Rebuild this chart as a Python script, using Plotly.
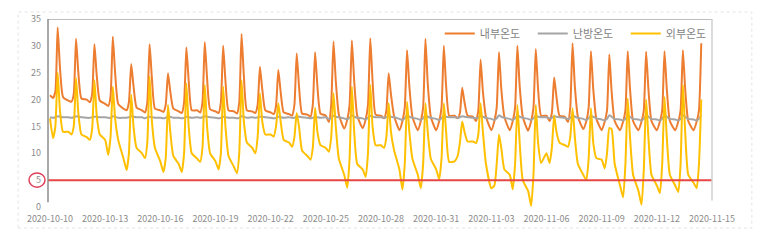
import pandas as pd
import plotly.graph_objects as go

# sample hours within each day
hours = [0, 4, 7, 10, 13, 17]
start_date = "2020-10-10"

# 내부온도 (inside) per day, values at the sample hours
inside = [
    [20.8, 20.3, 21.5, 33.4, 26.0, 20.5],
    [19.8, 19.6, 21.0, 31.3, 25.0, 20.2],
    [20.0, 19.5, 21.0, 30.3, 24.5, 19.8],
    [19.2, 18.8, 20.5, 31.7, 25.0, 19.2],
    [18.3, 18.0, 19.5, 26.6, 22.5, 18.5],
    [18.0, 17.6, 19.5, 30.3, 24.0, 18.3],
    [18.0, 17.7, 19.0, 24.9, 21.5, 18.3],
    [17.8, 17.5, 19.5, 29.7, 23.5, 18.0],
    [18.0, 17.6, 19.5, 30.7, 24.0, 18.2],
    [17.8, 17.5, 19.5, 30.0, 23.5, 18.0],
    [17.8, 17.4, 19.5, 32.2, 24.5, 18.0],
    [17.8, 17.5, 19.0, 26.1, 22.0, 18.0],
    [17.6, 17.3, 18.8, 25.5, 21.5, 17.6],
    [17.3, 17.0, 19.0, 28.6, 22.5, 17.4],
    [17.2, 16.8, 19.0, 28.8, 22.5, 17.4],
    [17.0, 15.8, 19.0, 30.8, 23.5, 17.2],
    [14.6, 16.3, 19.0, 31.0, 23.5, 17.0],
    [14.7, 16.3, 19.0, 31.4, 23.5, 17.2],
    [17.0, 16.5, 18.0, 24.9, 21.0, 17.0],
    [14.3, 16.0, 18.5, 29.2, 22.5, 16.8],
    [14.3, 16.0, 18.5, 31.3, 23.0, 16.8],
    [14.3, 16.0, 18.5, 30.0, 22.5, 17.0],
    [17.0, 16.5, 17.5, 22.2, 19.5, 17.0],
    [16.8, 16.0, 18.0, 27.4, 21.5, 16.8],
    [14.3, 16.0, 18.5, 28.8, 22.0, 16.8],
    [14.3, 16.0, 18.5, 30.0, 22.5, 16.8],
    [14.2, 16.0, 18.5, 29.4, 22.0, 17.0],
    [17.0, 16.0, 17.5, 24.1, 20.5, 17.0],
    [16.8, 15.8, 18.5, 30.5, 22.5, 16.8],
    [14.5, 16.0, 18.5, 29.0, 22.0, 16.5],
    [14.3, 15.9, 18.0, 28.4, 21.5, 16.0],
    [14.3, 15.9, 18.0, 29.0, 22.0, 16.0],
    [14.3, 15.9, 18.0, 28.9, 22.0, 16.0],
    [14.3, 15.9, 18.0, 29.0, 22.0, 16.0],
    [14.3, 15.9, 18.0, 29.2, 22.0, 16.0],
    [14.3, 15.9, 18.0, 30.5],
]

# 난방온도 (heating setpoint)
heating = [
    [16.7, 16.6, 16.7, 16.9, 16.8, 16.7],
    [16.7, 16.6, 16.7, 16.9, 16.8, 16.7],
    [16.6, 16.6, 16.7, 16.8, 16.8, 16.7],
    [16.7, 16.6, 16.6, 16.9, 16.8, 16.6],
    [16.6, 16.6, 16.7, 16.9, 16.8, 16.7],
    [16.7, 16.5, 16.7, 16.8, 16.7, 16.6],
    [16.6, 16.5, 16.6, 16.9, 16.8, 16.6],
    [16.6, 16.5, 16.6, 16.8, 16.7, 16.6],
    [16.7, 16.6, 16.7, 16.9, 16.8, 16.7],
    [16.6, 16.5, 16.6, 16.8, 16.7, 16.6],
    [16.6, 16.5, 16.6, 16.9, 16.8, 16.6],
    [16.7, 16.6, 16.7, 16.8, 16.8, 16.7],
    [16.6, 16.5, 16.6, 16.8, 16.7, 16.6],
    [16.7, 16.6, 16.6, 16.9, 16.8, 16.7],
    [16.6, 16.5, 16.6, 16.8, 16.7, 16.6],
    [16.7, 16.4, 16.6, 17.0, 16.8, 16.7],
    [16.5, 16.3, 16.6, 17.1, 16.8, 16.6],
    [16.5, 16.3, 16.6, 17.0, 16.8, 16.7],
    [16.7, 16.6, 16.7, 16.9, 16.8, 16.7],
    [16.4, 16.2, 16.5, 17.1, 16.8, 16.6],
    [16.4, 16.2, 16.5, 17.1, 16.8, 16.6],
    [16.4, 16.2, 16.5, 17.0, 16.8, 16.7],
    [16.7, 16.6, 16.7, 16.9, 16.8, 16.7],
    [16.6, 16.5, 16.6, 17.0, 16.8, 16.6],
    [16.4, 16.2, 16.5, 17.1, 16.8, 16.6],
    [16.4, 16.2, 16.5, 17.1, 16.8, 16.6],
    [16.4, 16.2, 16.5, 17.0, 16.8, 16.7],
    [16.7, 16.5, 16.6, 16.9, 16.8, 16.7],
    [16.6, 16.4, 16.6, 17.1, 16.8, 16.6],
    [16.4, 16.2, 16.5, 17.0, 16.8, 16.5],
    [16.3, 16.1, 16.4, 17.1, 16.8, 16.4],
    [16.3, 16.1, 16.4, 17.1, 16.8, 16.4],
    [16.3, 16.1, 16.4, 17.1, 16.8, 16.4],
    [16.3, 16.1, 16.4, 17.1, 16.8, 16.4],
    [16.3, 16.1, 16.4, 17.1, 16.8, 16.4],
    [16.3, 16.1, 16.4, 17.1],
]

# 외부온도 (outside)
outside = [
    [16.5, 12.8, 15.0, 25.0, 18.0, 14.0],
    [14.0, 13.5, 15.0, 24.0, 17.5, 13.5],
    [13.0, 12.5, 14.5, 23.6, 17.0, 13.5],
    [12.5, 9.7, 13.0, 22.4, 16.5, 12.5],
    [9.0, 6.9, 10.0, 20.9, 15.0, 11.0],
    [10.0, 9.1, 12.0, 24.3, 16.0, 11.0],
    [8.5, 6.5, 9.0, 19.0, 14.0, 9.5],
    [8.0, 6.5, 10.0, 23.0, 15.0, 10.0],
    [9.0, 8.4, 11.0, 22.7, 15.0, 10.0],
    [8.5, 7.0, 10.0, 22.4, 15.0, 9.5],
    [7.5, 6.3, 10.0, 23.6, 16.0, 12.0],
    [11.0, 10.0, 13.0, 21.2, 16.0, 13.5],
    [13.5, 13.1, 15.0, 19.3, 16.0, 12.5],
    [12.0, 11.2, 13.0, 17.5, 15.0, 10.5],
    [9.5, 8.8, 11.0, 18.5, 14.0, 11.5],
    [11.0, 10.3, 13.0, 21.2, 15.0, 9.0],
    [6.0, 3.6, 9.0, 22.4, 14.0, 8.0],
    [7.0, 5.6, 10.0, 22.7, 15.0, 11.5],
    [11.5, 11.0, 13.0, 19.3, 14.0, 10.6],
    [7.0, 3.2, 8.0, 19.6, 14.0, 9.0],
    [6.0, 3.5, 8.0, 19.3, 14.0, 9.0],
    [7.0, 5.2, 9.0, 19.3, 14.0, 8.4],
    [8.5, 9.5, 12.0, 15.9, 14.0, 12.2],
    [12.2, 11.9, 13.5, 19.3, 14.0, 8.0],
    [3.5, 4.0, 8.0, 13.5, 11.0, 7.0],
    [6.0, 3.3, 8.0, 19.0, 12.0, 5.0],
    [3.0, 0.2, 6.0, 19.0, 12.0, 8.2],
    [10.0, 8.2, 11.0, 17.1, 14.0, 12.0],
    [11.5, 11.2, 13.0, 18.4, 13.0, 8.0],
    [6.0, 5.0, 9.0, 18.4, 12.0, 9.1],
    [8.8, 7.2, 10.0, 14.7, 14.5, 8.0],
    [4.0, 1.8, 8.0, 20.2, 13.0, 6.0],
    [3.0, 0.4, 7.0, 20.0, 13.0, 6.0],
    [4.0, 2.6, 8.0, 20.5, 13.0, 6.0],
    [4.0, 2.8, 8.0, 22.7, 14.0, 6.0],
    [4.5, 3.5, 8.0, 20.0],
]

series_names = ["내부온도", "난방온도", "외부온도"]
series_colors = ["#ED7D31", "#A5A5A5", "#FFC000"]
threshold = 5
y_ticks = [0, 5, 10, 15, 20, 25, 30, 35]
x_ticks = pd.date_range("2020-10-10", "2020-11-15", freq="3D")


def build(daily):
    xs, ys = [], []
    base = pd.Timestamp(start_date)
    for d, vals in enumerate(daily):
        for h, v in zip(hours, vals):
            xs.append(base + pd.Timedelta(days=d, hours=h))
            ys.append(v)
    return xs, ys


fig = go.Figure()
for name, color, data in zip(series_names, series_colors, [inside, heating, outside]):
    xs, ys = build(data)
    fig.add_trace(go.Scatter(x=xs, y=ys, mode="lines", name=name,
                             line=dict(color=color, width=2, shape="spline", smoothing=0.5)))

fig.add_shape(type="line", xref="paper", x0=0, x1=1, yref="y", y0=threshold, y1=threshold,
              line=dict(color="#E84545", width=2))
# red circle around the 5 tick label
fig.add_shape(type="circle", xref="paper", yref="y",
              x0=-0.0286, x1=-0.0045, y0=3.7, y1=6.35,
              line=dict(color="#E0405A", width=1.5))
# frame lines
fig.add_shape(type="line", xref="paper", yref="y", x0=0, x1=1, y0=35, y1=35,
              line=dict(color="#A6A6A6", width=1.5))
fig.add_shape(type="line", xref="paper", yref="y", x0=1, x1=1, y0=1.2, y1=35,
              line=dict(color="#CFCFCF", width=1.5))
fig.add_shape(type="line", xref="paper", yref="y", x0=0, x1=0, y0=0.9, y1=35,
              line=dict(color="#8C8C8C", width=1.5))
# faint outer border
fig.add_shape(type="rect", xref="paper", yref="paper", x0=-0.045, x1=1.06, y0=-0.112, y1=1.037,
              line=dict(color="#E3E3E3", width=1, dash="dot"))

fig.update_layout(
    width=760, height=241,
    margin=dict(l=48, r=48, t=19, b=34, autoexpand=False),
    paper_bgcolor="white", plot_bgcolor="white",
    font=dict(family="Noto Sans CJK KR, sans-serif", color="#8C8C8C", size=9),
    showlegend=True,
    legend=dict(orientation="h", x=0.59, xanchor="left", y=1.0, yanchor="top",
                bgcolor="rgba(0,0,0,0)", font=dict(size=11, color="#7F7F7F"),
                entrywidth=48, entrywidthmode="pixels", traceorder="normal"),
    xaxis=dict(type="date", range=["2020-10-09 21:24", "2020-11-15 00:00"],
               tickvals=list(x_ticks), tickformat="%Y-%m-%d", tickangle=0,
               showgrid=False, zeroline=False, showline=False, ticks="",
               ticklabelstandoff=5,
               tickfont=dict(size=9, color="#8C8C8C")),
    yaxis=dict(range=[0, 35], tickvals=y_ticks, showgrid=False, zeroline=False,
               showline=False, ticks="", ticklabelstandoff=6,
               tickfont=dict(size=9, color="#8C8C8C")),
)

fig.write_html("out.html")
